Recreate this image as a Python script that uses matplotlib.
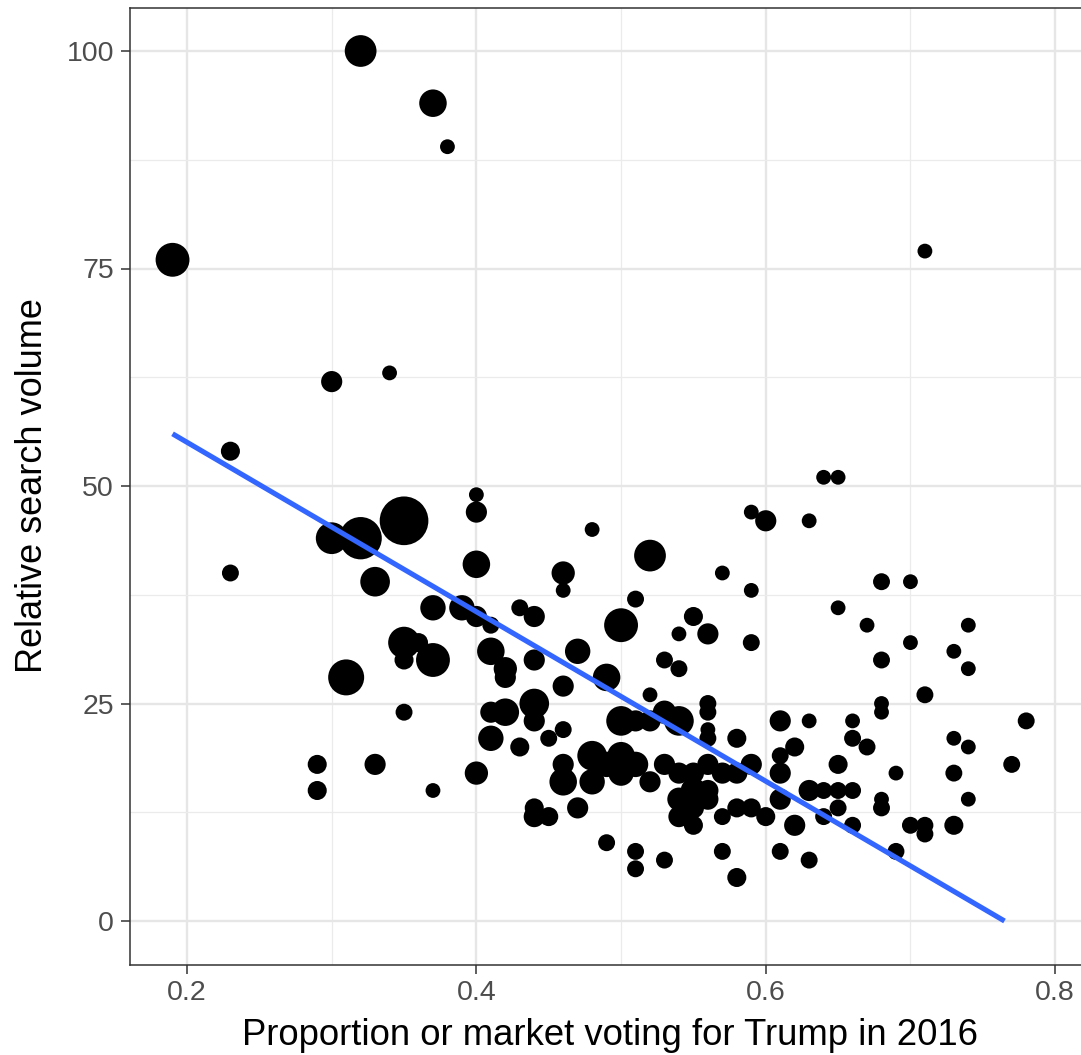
import numpy as np
import matplotlib.pyplot as plt

plt.rcParams['font.family'] = ['Liberation Sans', 'DejaVu Sans']

# Share of the market voting for Trump, relative search volume, and market size
trump_share = [
    0.32, 0.37, 0.38, 0.19, 0.71, 0.30, 0.34, 0.23, 0.23, 0.30,
    0.32, 0.35, 0.33, 0.40, 0.40, 0.40, 0.37, 0.39, 0.40, 0.41,
    0.43, 0.35, 0.36, 0.35, 0.37, 0.31, 0.41, 0.42, 0.42, 0.44,
    0.35, 0.29, 0.29, 0.33, 0.37, 0.40, 0.41, 0.42, 0.41, 0.43,
    0.44, 0.44, 0.48, 0.46, 0.46, 0.52, 0.51, 0.50, 0.59, 0.60,
    0.63, 0.57, 0.59, 0.55, 0.54, 0.56, 0.59, 0.53, 0.54, 0.47,
    0.44, 0.49, 0.46, 0.52, 0.44, 0.46, 0.45, 0.50, 0.51, 0.52,
    0.53, 0.54, 0.56, 0.56, 0.56, 0.56, 0.58, 0.61, 0.63, 0.62,
    0.61, 0.59, 0.61, 0.63, 0.46, 0.46, 0.48, 0.48, 0.49, 0.50,
    0.50, 0.51, 0.52, 0.53, 0.54, 0.55, 0.56, 0.57, 0.58, 0.54,
    0.54, 0.55, 0.55, 0.55, 0.56, 0.56, 0.57, 0.58, 0.59, 0.60,
    0.61, 0.62, 0.44, 0.45, 0.47, 0.49, 0.51, 0.51, 0.53, 0.57,
    0.58, 0.61, 0.63, 0.64, 0.65, 0.68, 0.70, 0.65, 0.67, 0.74,
    0.70, 0.73, 0.68, 0.74, 0.71, 0.68, 0.68, 0.66, 0.66, 0.67,
    0.65, 0.69, 0.73, 0.74, 0.78, 0.77, 0.73, 0.74, 0.64, 0.65,
    0.66, 0.68, 0.68, 0.65, 0.64, 0.66, 0.70, 0.71, 0.71, 0.73,
    0.69,
]
search_volume = [
    100, 94, 89, 76, 77, 62, 63, 54, 40, 44,
    44, 46, 39, 49, 47, 41, 36, 36, 35, 34,
    36, 32, 32, 30, 30, 28, 31, 29, 28, 30,
    24, 18, 15, 18, 15, 17, 24, 24, 21, 20,
    25, 12, 45, 40, 38, 42, 37, 34, 47, 46,
    46, 40, 38, 35, 33, 33, 32, 30, 29, 31,
    35, 28, 27, 26, 23, 22, 21, 23, 23, 23,
    24, 23, 25, 24, 22, 21, 21, 23, 23, 20,
    19, 18, 17, 15, 18, 16, 19, 16, 18, 19,
    17, 18, 16, 18, 17, 17, 18, 17, 17, 14,
    12, 15, 13, 11, 15, 14, 12, 13, 13, 12,
    14, 11, 13, 12, 13, 9, 8, 6, 7, 8,
    5, 8, 7, 51, 51, 39, 39, 36, 34, 34,
    32, 31, 30, 29, 26, 25, 24, 23, 21, 20,
    18, 17, 21, 20, 23, 18, 17, 14, 15, 15,
    15, 14, 13, 13, 12, 11, 11, 11, 10, 11,
    8,
]
market_size = [
    225, 169, 49, 256, 49, 100, 49, 81, 64, 225,
    400, 529, 196, 49, 100, 169, 144, 144, 100, 64,
    64, 225, 81, 81, 256, 289, 169, 121, 100, 100,
    64, 81, 81, 100, 49, 121, 100, 169, 144, 81,
    196, 100, 49, 121, 49, 225, 64, 256, 49, 100,
    49, 49, 49, 81, 49, 100, 64, 64, 64, 144,
    100, 169, 100, 49, 100, 64, 64, 196, 100, 100,
    121, 196, 64, 64, 49, 64, 81, 100, 49, 81,
    64, 100, 100, 100, 100, 169, 196, 144, 144, 169,
    144, 144, 100, 100, 100, 100, 100, 100, 100, 121,
    100, 144, 100, 81, 100, 100, 64, 81, 81, 81,
    100, 100, 81, 81, 100, 64, 64, 64, 64, 64,
    81, 64, 64, 49, 49, 64, 49, 49, 49, 49,
    49, 49, 64, 49, 64, 49, 49, 49, 64, 64,
    81, 49, 49, 49, 64, 64, 64, 49, 64, 64,
    64, 49, 64, 64, 64, 64, 64, 64, 64, 81,
    64,
]

# Least-squares fit, cut off at zero search volume
fit_x = [0.19, 0.765]
fit_y = [56, 0]

xticks = [0.2, 0.4, 0.6, 0.8]
yticks = [0, 25, 50, 75, 100]
xminor = [0.3, 0.5, 0.7]
yminor = [12.5, 37.5, 62.5, 87.5]

W, H = 1081, 1055
fig = plt.figure(figsize=(W / 100, H / 100), dpi=100)
ax = fig.add_axes([130 / W, (H - 964.5) / H, (1090 - 130) / W, 957 / H])

# market size is stored as squared pixel radius, convert to points^2
px_to_pt = 72 / 100
sizes = [1.12 * (2 * np.sqrt(m) * px_to_pt) ** 2 for m in market_size]
ax.scatter(trump_share, search_volume, s=sizes, c='black', edgecolors='none', zorder=3)
ax.plot(fit_x, fit_y, color='#3366FF', lw=3.7, solid_capstyle='butt', zorder=4)

ax.set_xlim(0.1606, 0.8241)
ax.set_ylim(-5, 105)
ax.set_xticks(xticks)
ax.set_xticklabels(['0.2', '0.4', '0.6', '0.8'])
ax.set_yticks(yticks)
ax.set_xticks(xminor, minor=True)
ax.set_yticks(yminor, minor=True)
ax.grid(which='major', color='#e6e6e6', lw=1.7, zorder=0)
ax.grid(which='minor', color='#ebebeb', lw=0.9, zorder=0)
ax.set_axisbelow(True)
ax.tick_params(which='major', direction='out', length=6.5, width=1.1, color='#333333',
               labelsize=20.5, labelcolor='#4d4d4d', pad=5)
ax.tick_params(which='minor', length=0)
for sp in ax.spines.values():
    sp.set_color('#333333')
    sp.set_linewidth(1.1)

ax.set_xlabel('Proportion or market voting for Trump in 2016', fontsize=26.3, labelpad=8)
ax.set_ylabel('Relative search volume', fontsize=26, labelpad=12)

fig.savefig('out.png', dpi=100)
